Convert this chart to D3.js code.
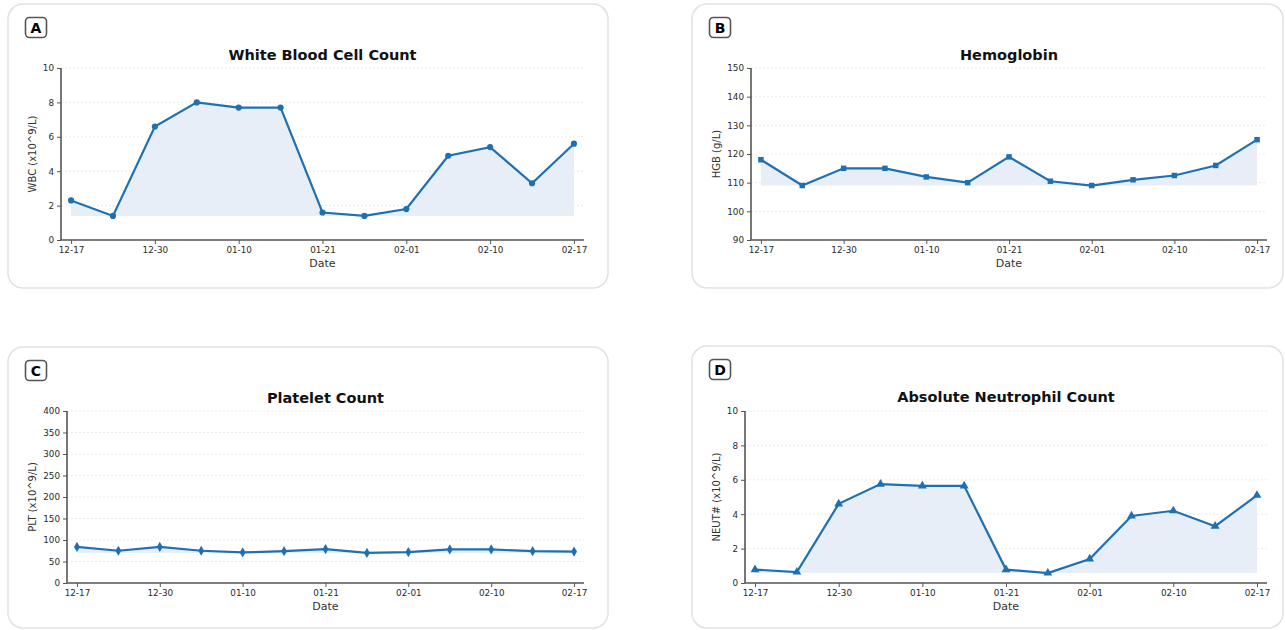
<!DOCTYPE html>
<html>
<head>
<meta charset="utf-8">
<script src="https://cdn.jsdelivr.net/npm/d3@7"></script>
<style>
  body { margin: 0; background: #fff; }
  svg { display: block; font-family: "DejaVu Sans", sans-serif; }
</style>
</head>
<body>
<svg id="chart" width="1285" height="630"></svg>
<script>
// dates shown on the x axis (13 samples, every other one labelled)
var dates = ['12-17', '12-24', '12-30', '01-04', '01-10', '01-15', '01-21', '01-26', '02-01', '02-05', '02-10', '02-14', '02-17'];
var shownTicks = ['12-17', '12-30', '01-10', '01-21', '02-01', '02-10', '02-17'];

var wbc  = [2.3, 1.4, 6.6, 8.0, 7.7, 7.7, 1.6, 1.4, 1.8, 4.9, 5.4, 3.3, 5.6];
var hgb  = [118, 109, 115, 115, 112, 110, 119, 110.5, 109, 111, 112.5, 116, 125];
var plt  = [84, 75, 84, 75, 71, 74, 79, 70, 72, 78, 78, 74, 73];
var neut = [0.78, 0.64, 4.6, 5.75, 5.65, 5.65, 0.78, 0.58, 1.4, 3.9, 4.2, 3.3, 5.1];

var wbcTicks  = [0, 2, 4, 6, 8, 10];
var hgbTicks  = [90, 100, 110, 120, 130, 140, 150];
var pltTicks  = [0, 50, 100, 150, 200, 250, 300, 350, 400];
var neutTicks = [0, 2, 4, 6, 8, 10];

var lineColor = '#1f70b2';
var fillColor = '#e7eef8';
var axisColor = '#555';

var svg = d3.select('#chart');

var panels = [
  { tag: 'A', title: 'White Blood Cell Count', ylabel: 'WBC (x10^9/L)', values: wbc, ticks: wbcTicks,
    symbol: d3.symbolCircle, card: [8, 4, 600, 284], box: [61, 584, 68, 240] },
  { tag: 'B', title: 'Hemoglobin', ylabel: 'HGB (g/L)', values: hgb, ticks: hgbTicks,
    symbol: d3.symbolSquare, card: [692, 4, 591, 284], box: [751, 1267, 68, 240] },
  { tag: 'C', title: 'Platelet Count', ylabel: 'PLT (x10^9/L)', values: plt, ticks: pltTicks,
    symbol: d3.symbolDiamond, card: [8, 347, 600, 281], box: [67, 584, 411, 583] },
  { tag: 'D', title: 'Absolute Neutrophil Count', ylabel: 'NEUT# (x10^9/L)', values: neut, ticks: neutTicks,
    symbol: d3.symbolTriangle, card: [692, 346, 591, 282], box: [745, 1267, 411, 583] }
];

panels.forEach(function(p) {
  var c = p.card, b = p.box;
  var g = svg.append('g');

  // card
  g.append('rect')
    .attr('x', c[0]).attr('y', c[1])
    .attr('width', c[2]).attr('height', c[3])
    .attr('rx', 15)
    .attr('fill', '#fff')
    .attr('stroke', '#e2e2e2')
    .attr('stroke-width', 1.5);

  // panel letter
  g.append('rect')
    .attr('x', c[0] + 17.5).attr('y', c[1] + 13.5)
    .attr('width', 21).attr('height', 20)
    .attr('rx', 4)
    .attr('fill', '#fff')
    .attr('stroke', '#555')
    .attr('stroke-width', 1.6);
  g.append('text')
    .attr('x', c[0] + 28).attr('y', c[1] + 29)
    .attr('text-anchor', 'middle')
    .attr('font-size', 14).attr('font-weight', 'bold')
    .text(p.tag);

  var x = d3.scalePoint().domain(dates).range([b[0], b[1]]).padding(0.24);
  var y = d3.scaleLinear()
    .domain([p.ticks[0], p.ticks[p.ticks.length - 1]])
    .range([b[3], b[2]]);

  // grid
  g.append('g').selectAll('line')
    .data(p.ticks.slice(1))
    .enter().append('line')
    .attr('x1', b[0]).attr('x2', b[1])
    .attr('y1', function(d) { return y(d); })
    .attr('y2', function(d) { return y(d); })
    .attr('stroke', '#e4e4e4')
    .attr('stroke-width', 0.8)
    .attr('stroke-dasharray', '2,2');

  // fill from the lowest value up to the line
  var minV = d3.min(p.values);
  var area = d3.area()
    .x(function(d, i) { return x(dates[i]); })
    .y0(y(minV))
    .y1(function(d) { return y(d); });
  g.append('path')
    .datum(p.values)
    .attr('d', area)
    .attr('fill', fillColor);

  // axes
  var yAxis = d3.axisLeft(y).tickValues(p.ticks).tickSize(4).tickPadding(3);
  var xAxis = d3.axisBottom(x).tickValues(shownTicks).tickSize(4).tickPadding(3);

  var ya = g.append('g').attr('transform', 'translate(' + b[0] + ',0)').call(yAxis);
  var xa = g.append('g').attr('transform', 'translate(0,' + b[3] + ')').call(xAxis);
  [ya, xa].forEach(function(a) {
    a.select('.domain').attr('stroke', axisColor).attr('stroke-width', 1.6);
    a.selectAll('.tick line').attr('stroke', axisColor).attr('stroke-width', 1);
    a.selectAll('.tick text').attr('fill', '#2a2a2a').attr('font-size', 8.8)
      .attr('font-family', '"DejaVu Sans", sans-serif');
  });
  // keep the spines over the full axis box
  xa.select('.domain').attr('d', 'M' + b[0] + ',0H' + b[1]);
  ya.select('.domain').attr('d', 'M0,' + b[2] + 'V' + b[3]);

  // line + markers
  var line = d3.line()
    .x(function(d, i) { return x(dates[i]); })
    .y(function(d) { return y(d); });
  g.append('path')
    .datum(p.values)
    .attr('d', line)
    .attr('fill', 'none')
    .attr('stroke', lineColor)
    .attr('stroke-width', 2.2);

  var sym = d3.symbol().type(p.symbol).size(p.symbol === d3.symbolTriangle ? 34 : 30);
  g.append('g').selectAll('path')
    .data(p.values)
    .enter().append('path')
    .attr('transform', function(d, i) { return 'translate(' + x(dates[i]) + ',' + y(d) + ')'; })
    .attr('d', sym)
    .attr('fill', lineColor);

  // titles
  g.append('text')
    .attr('x', (b[0] + b[1]) / 2).attr('y', c[1] + 56)
    .attr('text-anchor', 'middle')
    .attr('font-size', 14.5).attr('font-weight', 'bold')
    .attr('fill', '#111')
    .text(p.title);

  g.append('text')
    .attr('x', (b[0] + b[1]) / 2).attr('y', b[3] + 27)
    .attr('text-anchor', 'middle')
    .attr('font-size', 11)
    .attr('fill', '#333')
    .text('Date');

  g.append('text')
    .attr('transform', 'translate(' + (c[0] + 28) + ',' + ((b[2] + b[3]) / 2) + ') rotate(-90)')
    .attr('text-anchor', 'middle')
    .attr('font-size', 10)
    .attr('fill', '#333')
    .text(p.ylabel);
});
</script>
</body>
</html>
